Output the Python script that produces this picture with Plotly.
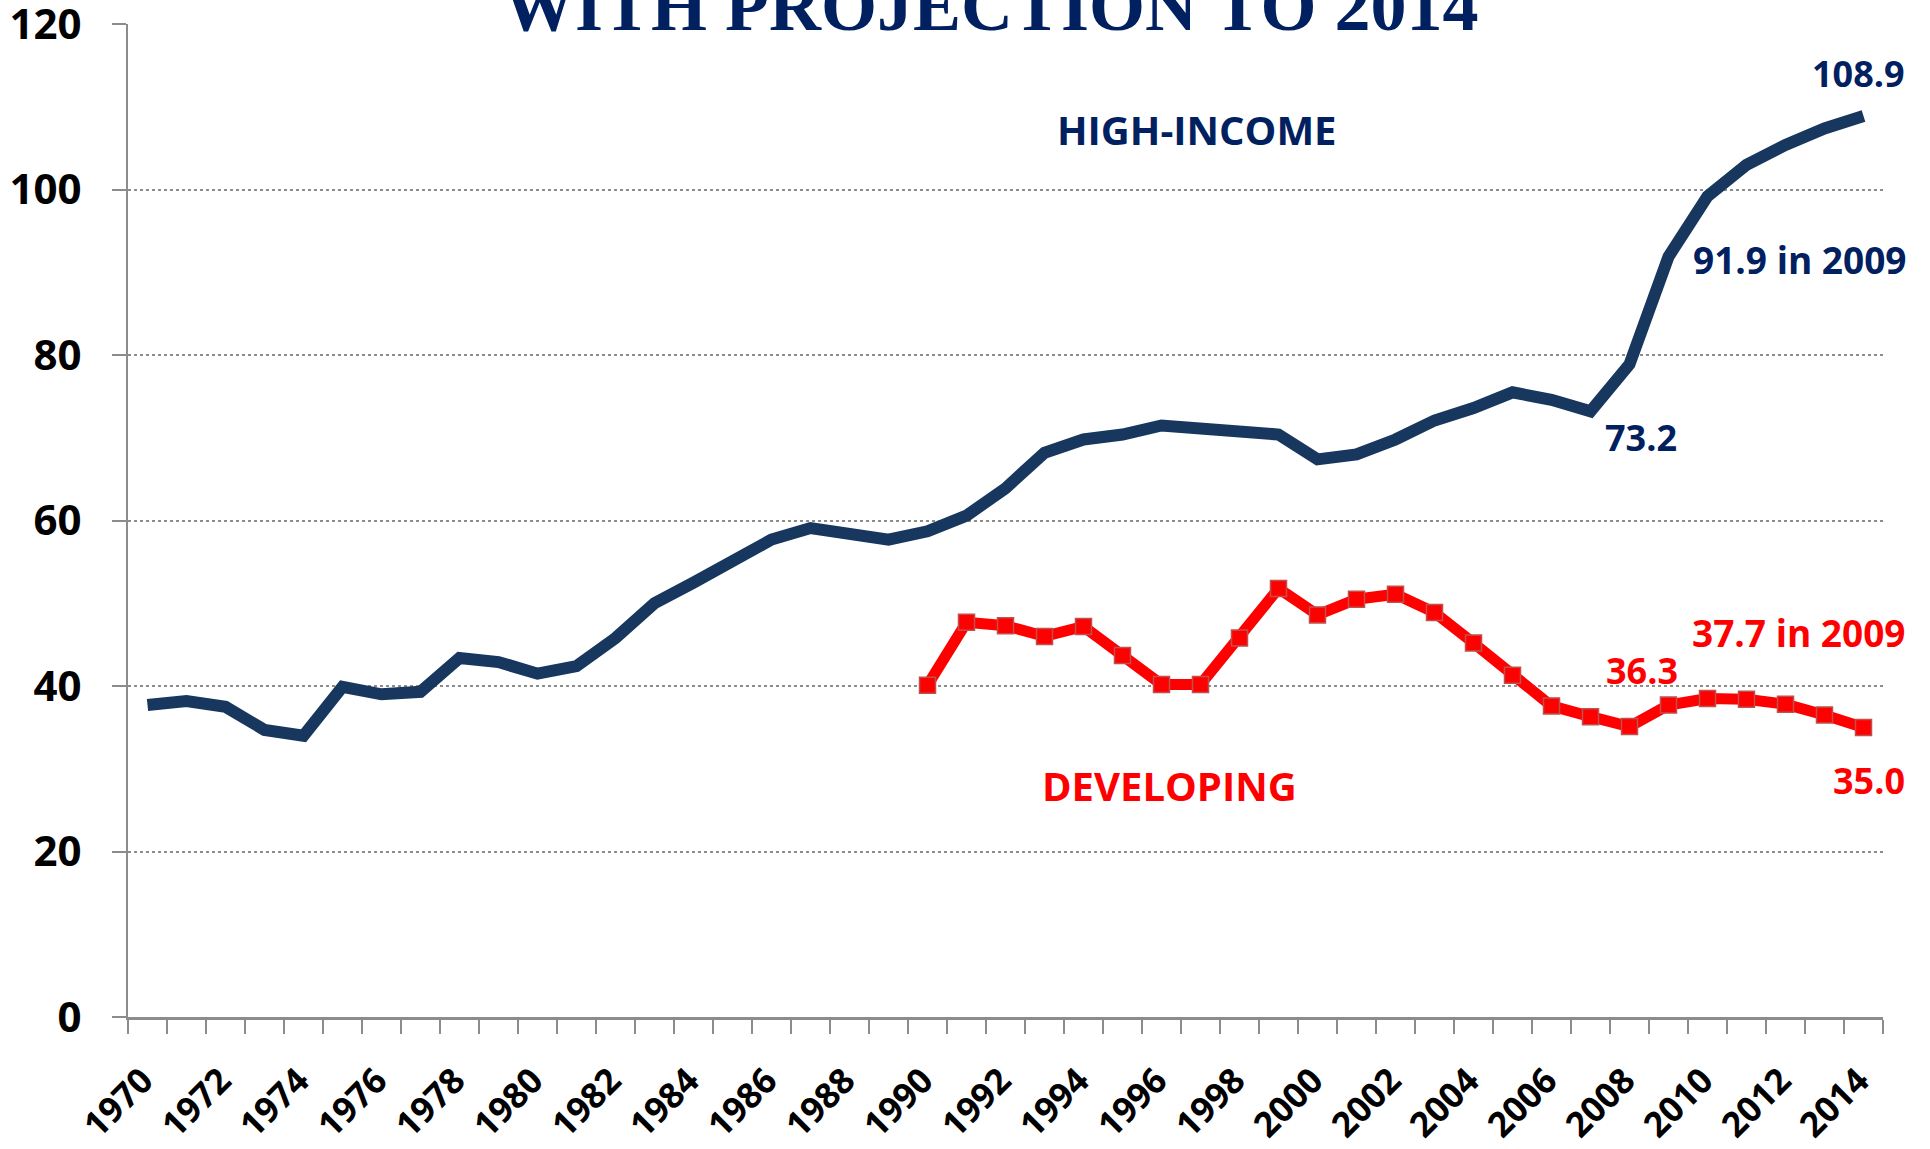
import plotly.graph_objects as go

# ---- data ----
years = list(range(1970, 2015))
high_income = [37.7, 38.2, 37.5, 34.7, 34.0, 39.9, 39.0, 39.3, 43.4, 42.9,
               41.5, 42.4, 45.8, 50.0, 52.5, 55.2, 57.7, 59.1, 58.4, 57.7,
               58.7, 60.6, 63.9, 68.2, 69.8, 70.4, 71.5, 71.2, 71.0, 70.4,
               67.4, 68.0, 69.8, 72.1, 73.6, 75.5, 74.6, 73.2, 78.9, 91.9,
               99.2, 103.0, 105.4, 107.4, 108.9]
dev_years = list(range(1990, 2015))
developing = [40.1, 47.7, 47.3, 46.0, 47.2, 43.7, 40.2, 40.2, 45.8, 51.8,
              48.6, 50.5, 51.1, 48.9, 45.2, 41.3, 37.6, 36.3, 35.1, 37.7,
              38.5, 38.4, 37.8, 36.5, 35.0]
x_tick_years = list(range(1970, 2015, 2))
y_ticks = [0, 20, 40, 60, 80, 100, 120]

NAVY_LINE = "#17375E"
NAVY_TEXT = "#002060"
RED = "#FF0000"
GRAY = "#8C8C8C"
FONT = "Open Sans"

fig = go.Figure()
fig.add_trace(go.Scatter(
    x=years, y=high_income, mode="lines",
    line=dict(color=NAVY_LINE, width=12),
    showlegend=False, hoverinfo="x+y"))
fig.add_trace(go.Scatter(
    x=dev_years, y=developing, mode="lines+markers",
    line=dict(color=RED, width=11),
    marker=dict(symbol="square", size=16, color=RED,
                line=dict(color="#C0504D", width=1.5)),
    showlegend=False, hoverinfo="x+y"))

def val(xs, ys, yr):
    return ys[xs.index(yr)]

anns = []
def lab(text, yr, xs, ys, color, xanchor="center", xshift=0, yshift=0, size=36):
    anns.append(dict(x=yr, y=val(xs, ys, yr), xref="x", yref="y", text=text,
                     showarrow=False, xanchor=xanchor, yanchor="middle",
                     xshift=xshift, yshift=yshift,
                     font=dict(family=FONT, size=size, color=color, weight="bold")))

lab("108.9", 2014, years, high_income, NAVY_TEXT, xshift=-5, yshift=43)
lab("91.9 in 2009", 2009, years, high_income, NAVY_TEXT, xanchor="left", xshift=22, yshift=-3, size=37)
lab("73.2", 2007, years, high_income, NAVY_TEXT, xshift=50, yshift=-26)
lab("37.7 in 2009", 2009, dev_years, developing, RED, xanchor="left", xshift=21, yshift=73, size=37)
lab("36.3", 2007, dev_years, developing, RED, xshift=51, yshift=46)
lab("35.0", 2014, dev_years, developing, RED, xshift=5, yshift=-53)

anns.append(dict(x=1996.9, y=107.3, xref="x", yref="y", text="HIGH-INCOME",
                 showarrow=False, xanchor="center", yanchor="middle",
                 font=dict(family=FONT, size=40, color=NAVY_TEXT, weight="bold")))
anns.append(dict(x=1996.2, y=28.0, xref="x", yref="y", text="DEVELOPING",
                 showarrow=False, xanchor="center", yanchor="middle",
                 font=dict(family=FONT, size=40, color=RED, weight="bold")))
anns.append(dict(x=0.4917, y=1.018, xref="paper", yref="paper",
                 text="WITH PROJECTION TO 2014", showarrow=False,
                 xanchor="center", yanchor="middle",
                 font=dict(family="Liberation Serif", size=72, color=NAVY_TEXT, weight="bold")))

fig.update_layout(
    width=1930, height=1149,
    margin=dict(l=128, r=47, t=24, b=132, autoexpand=False),
    paper_bgcolor="white", plot_bgcolor="white",
    annotations=anns,
    xaxis=dict(
        range=[1969.5, 2014.5], tickmode="array",
        tickvals=[y - 0.12 for y in x_tick_years],
        ticktext=[str(y) for y in x_tick_years], tickangle=-45,
        ticks="", showgrid=False, zeroline=False, automargin=False,
        showline=True, linecolor=GRAY, linewidth=3,
        ticklabelstandoff=26, ticklabeloverflow="allow",
        tickfont=dict(family=FONT, size=35, color="black", weight="bold"),
        minor=dict(ticks="outside", ticklen=14, tickwidth=2, tickcolor=GRAY,
                   tick0=1969.5, dtick=1, showgrid=False),
    ),
    yaxis=dict(
        range=[0, 120.02], tickmode="array", tickvals=y_ticks,
        ticks="outside", ticklen=14, tickwidth=2, tickcolor=GRAY,
        showline=True, linecolor=GRAY, linewidth=2,
        showgrid=True, gridcolor=GRAY, gridwidth=1.5, griddash="dot",
        zeroline=False, ticklabelstandoff=22, automargin=False,
        ticklabeloverflow="allow",
        tickfont=dict(family=FONT, size=42, color="black", weight="bold"),
    ),
)

fig.write_html("out.html", config={"displayModeBar": False},
               post_script="document.body.style.margin='0';")
